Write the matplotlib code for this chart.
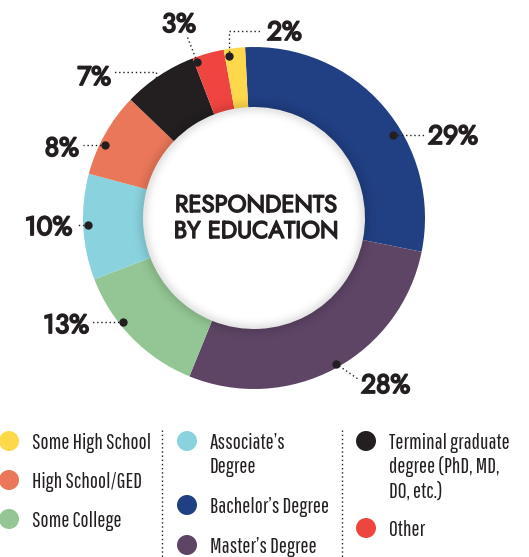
import numpy as np
import matplotlib
matplotlib.use("Agg")
import matplotlib.pyplot as plt
from matplotlib.patches import Wedge, Circle
import matplotlib.patheffects as pe

W, H = 529, 557

# slice order round the ring, clockwise from the top
slices = ["Bachelor\u2019s Degree", "Master\u2019s Degree", "Some College", "Associate\u2019s\nDegree",
          "High School/GED", "Terminal graduate\ndegree (PhD, MD,\nDO, etc.)", "Other",
          "Some High School"]
shares = [29, 28, 13, 10, 8, 7, 3, 2]
colors = ["#213f83", "#5e4566", "#93c694", "#8ad3de", "#ea775a", "#231f20", "#ee4540", "#fdd84b"]

# legend order (column by column)
legend_order = ["Some High School", "High School/GED", "Some College",
                "Associate\u2019s\nDegree", "Bachelor\u2019s Degree", "Master\u2019s Degree",
                "Terminal graduate\ndegree (PhD, MD,\nDO, etc.)", "Other"]

title = "RESPONDENTS\nBY EDUCATION"

# ---- layout (pixels, measured from the top-left) ----
cx, cy = 254, 218
r_out, r_in = 171, 111
start = 93
ink = "#231f20"
head_font = ["Jost", "Lato", "DejaVu Sans"]
leg_font = ["Pathway Gothic One", "DejaVu Sans"]
heavy = [pe.withStroke(linewidth=1.3, foreground=ink)]
heavy_title = [pe.withStroke(linewidth=1.0, foreground=ink)]

# where each label's dot sits on the ring (deg) and where its text goes
dot_ang = [30.7, -60.7, -141.6, -177.6, 153.9, 126.6, 110.0, 98.8]
dot_r = [162, 167, 167, 166, 166, 165, 166, 164]
txt_pos = [(428, 144, "left"), (361, 393, "left"), (89, 333, "right"), (72, 235, "right"),
           (79, 156, "right"), (111, 85, "right"), (196, 32, "right"), (267, 40, "left")]
# leader path from the dot: extra points ending near the text (None keeps the last value)
leaders = [[(424, None)], [(358, 379)], [(92, None)], [(76, None)], [(83, None)],
           [(None, 72), (114, 72)], [(187, 36)], [(None, 31), (262, 31)]]

leg_x = [9, 9, 9, 187, 187, 187, 366, 366]
leg_y = [441, 480, 519, 441, 505, 545, 441, 528]
leg_step = 24
sep_x = [162, 342]


def P(x, y):
    return x, H - y


fig = plt.figure(figsize=(W / 100, H / 100), dpi=100)
ax = fig.add_axes([0, 0, 1, 1])

wedges, _ = ax.pie(shares, colors=colors, startangle=start, counterclock=False,
                   radius=r_out, center=P(cx, cy),
                   wedgeprops=dict(width=r_out - r_in, linewidth=0.6, edgecolor="none"))

# soft shadow round the edge of the hole
c = P(cx, cy)
for k in range(-14, 15):
    a = 0.10 * np.exp(-(k / 6.0) ** 2)
    ax.add_patch(Wedge(c, r_in + k + 0.5, 0, 360, width=1.0, fc="black", ec="none",
                       alpha=a, zorder=3))
ax.add_patch(Circle(c, r_in - 14, fc="white", ec="none", zorder=3))

for line, by in zip(title.split("\n"), [212, 238]):
    ax.text(*P(cx + 2, by), line, ha="center", va="baseline", fontsize=17.2,
            fontweight="bold", family=head_font, color=ink, zorder=5,
            path_effects=heavy_title)

# percentage labels with dotted leaders
for i, v in enumerate(shares):
    th = np.deg2rad(dot_ang[i])
    dx = cx + dot_r[i] * np.cos(th)
    dy = cy - dot_r[i] * np.sin(th)
    pts = [(dx, dy)]
    for px, py in leaders[i]:
        lx, ly = pts[-1]
        pts.append((lx if px is None else px, ly if py is None else py))
    xs = [p[0] for p in pts]
    ys = [H - p[1] for p in pts]
    ax.plot(xs, ys, color=ink, lw=1.0, ls=(0, (1, 2)), zorder=6)
    ax.plot(dx, H - dy, "o", color=ink, ms=5, zorder=7)
    tx, ty, ha = txt_pos[i]
    ax.text(*P(tx, ty), f"{v}%", ha=ha, va="baseline", fontsize=19, fontweight="bold",
            family=head_font, color=ink, zorder=6, path_effects=heavy)

# legend, one text line per row so the baselines sit on a fixed step
for i, name in enumerate(legend_order):
    col = colors[slices.index(name)]
    ax.add_patch(Circle(P(leg_x[i], leg_y[i]), 10, fc=col, ec="none"))
    for j, part in enumerate(name.split("\n")):
        ax.text(*P(leg_x[i] + 23, leg_y[i] + 8 + j * leg_step), part, ha="left",
                va="baseline", fontsize=15.5, family=leg_font, color=ink)

for sx in sep_x:
    ax.plot([sx, sx], [H - 430, 0], color=ink, lw=1.0, ls=(0, (1, 2)))

ax.set_xlim(0, W)
ax.set_ylim(0, H)
ax.set_aspect("equal")
ax.axis("off")

fig.savefig("out.png", dpi=100, facecolor="white")
